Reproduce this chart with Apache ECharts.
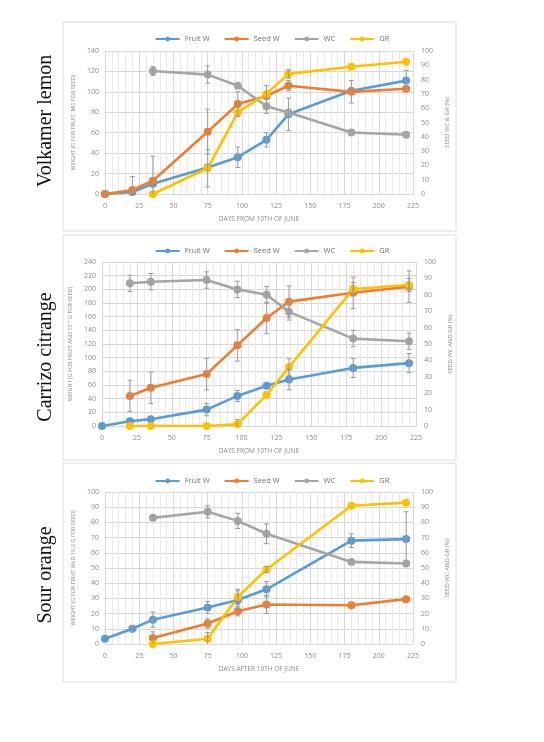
<!DOCTYPE html>
<html><head><meta charset="utf-8">
<script src="https://cdn.jsdelivr.net/npm/echarts@6/dist/echarts.min.js"></script>
<style>html,body{margin:0;padding:0;background:#fff}#c{width:544px;height:742px}</style>
</head><body><div id="c"></div>
<script>
// ---- Data ----
var seriesNames = ['Fruit W', 'Seed W', 'WC', 'GR'];
var panelTitles = ['Volkamer lemon', 'Carrizo citrange', 'Sour orange'];

// Panel 1: Volkamer lemon
var days1 = [0, 20, 35, 75, 97, 118, 134, 180, 220];
var fruitW1 = [0, 2, 10, 26, 36, 53, 78, 101, 111];
var fruitE1 = [0, 0, 0, 0, 10, 7, 16, 0, 10];
var seedW1 = [0, 4, 13, 61, 88, 96, 106, 100, 103];
var seedE1 = [2, 13, 24, 22, 12, 10, 5, 11, 0];
var wc1 = [null, null, 86, 83.5, 75.7, 61.4, 57, 43, 41.4];
var wcE1 = [0, 0, 3, 6, 0, 5, 0, 0, 0];
var gr1 = [null, null, 0, 18, 57, 70, 84, 89, 92.5];
var grE1 = [0, 0, 0, 13, 0, 0, 3, 0, 0];

// Panel 2: Carrizo citrange
var days2 = [0, 20, 35, 75, 97, 118, 134, 180, 220];
var fruitW2 = [0, 7, 10, 24, 44, 59, 68, 85, 92];
var fruitE2 = [0, 0, 0, 9, 8, 0, 15, 14, 14];
var seedW2 = [null, 44, 56, 76, 118, 158, 182, 195, 204];
var seedE2 = [0, 23, 23, 23, 23, 23, 23, 23, 23];
var wc2 = [null, 87, 88, 89, 83.3, 80, 69.6, 53.3, 51.7];
var wcE2 = [0, 5, 5, 5, 5, 5, 5, 5, 5];
var gr2 = [null, 0, 0, 0, 1, 19, 36, 83.5, 86];
var grE2 = [0, 0, 0, 0, 3, 0, 5, 4, 4];

// Panel 3: Sour orange
var days3 = [0, 20, 35, 75, 97, 118, 180, 220];
var fruitW3 = [3.5, 10, 16, 24, 29, 36, 68, 69];
var fruitE3 = [0, 2, 5, 4, 6, 5, 4.5, 18];
var seedW3 = [null, null, 4, 13.5, 21.5, 26, 25.5, 29.5];
var seedE3 = [0, 0, 4, 3, 3, 6, 0, 0];
var wc3 = [null, null, 83, 87, 81, 72.5, 54, 53];
var wcE3 = [0, 0, 1.5, 4, 5, 6.5, 0, 0];
var gr3 = [null, null, 0, 3.5, 31, 49, 91, 93];
var grE3 = [0, 0, 0, 4, 5, 2, 0, 0];

var leftMax = [140, 240, 100];
var leftInterval = [20, 20, 10];
var leftNames = ['WEIGHT (G FOR FRUIT, MG FOR SEED)', 'WEIGHT (G FOR FRUIT AND 10\u207B\u00B9 G FOR SEED)', 'WEIGHT (G FOR FRUIT AND 10-2 G FOR SEED)'];
var rightNames = ['SEED WC & GR (%)', 'SEED WC AND GR (%)', 'SEED WC AND GR (%)'];
var xNames = ['DAYS FROM 10TH OF JUNE', 'DAYS FROM 10TH OF JUNE', 'DAYS AFTER 10TH OF JUNE'];

// ---- Layout / style ----
var colors = ['#5B9BD5', '#ED7D31', '#A5A5A5', '#FFC000'];
var grids = [
  {left: 105, right: 131, top: 51, height: 143},
  {left: 102, right: 128, top: 262, height: 164},
  {left: 105, right: 131, top: 492, height: 152}
];
var legendTops = [30, 242, 472];
var boxes = [[63, 22, 393, 209], [63, 235, 393, 225], [63, 463, 393, 219]];
var titleY = [121, 357, 575];

var panels = [
  {days: days1, vals: [fruitW1, seedW1, wc1, gr1], errs: [fruitE1, seedE1, wcE1, grE1]},
  {days: days2, vals: [fruitW2, seedW2, wc2, gr2], errs: [fruitE2, seedE2, wcE2, grE2]},
  {days: days3, vals: [fruitW3, seedW3, wc3, gr3], errs: [fruitE3, seedE3, wcE3, grE3]}
];
var yAxisIdx = [0, 0, 1, 1]; // Fruit, Seed on left; WC, GR on right

var labelStyle = {fontSize: 7, color: '#8a8a8a', fontFamily: 'Open Sans'};
var option = {
  animation: false,
  grid: grids,
  legend: [], xAxis: [], yAxis: [], series: [],
  graphic: []
};

function errorRender(params, api) {
  var x = api.value(0), y = api.value(1), e = api.value(2);
  var lo = Math.max(0, y - e), hi = y + e;
  var pHi = api.coord([x, hi]), pLo = api.coord([x, lo]);
  var children = [
    {type: 'line', shape: {x1: pHi[0], y1: pHi[1], x2: pLo[0], y2: pLo[1]}, style: {stroke: '#9a9a9a', lineWidth: 1}},
    {type: 'line', shape: {x1: pHi[0] - 2.5, y1: pHi[1], x2: pHi[0] + 2.5, y2: pHi[1]}, style: {stroke: '#9a9a9a', lineWidth: 1}}
  ];
  if (y - e > 0) children.push({type: 'line', shape: {x1: pLo[0] - 2.5, y1: pLo[1], x2: pLo[0] + 2.5, y2: pLo[1]}, style: {stroke: '#9a9a9a', lineWidth: 1}});
  return {type: 'group', children: children};
}

panels.forEach(function (p, g) {
  option.legend.push({
    top: legendTops[g], left: 'center', data: seriesNames,
    itemWidth: 24, itemHeight: 6, itemGap: 14,
    textStyle: {fontSize: 7.5, color: '#6f6f6f', fontFamily: 'Open Sans'}
  });
  option.xAxis.push({
    type: 'value', gridIndex: g, min: 0, max: 225, interval: 25,
    name: xNames[g], nameLocation: 'middle', nameGap: 22,
    nameTextStyle: {fontSize: 6.5, color: '#8a8a8a', fontFamily: 'Open Sans'},
    axisLine: {show: true, lineStyle: {color: '#d9d9d9'}}, axisTick: {show: false},
    axisLabel: labelStyle,
    splitLine: {show: true, lineStyle: {color: '#d6d6d6', width: 1}},
    minorTick: {show: false, splitNumber: 5},
    minorSplitLine: {show: true, lineStyle: {color: '#e8e8e8', width: 1}}
  });
  option.yAxis.push({
    type: 'value', gridIndex: g, min: 0, max: leftMax[g], interval: leftInterval[g],
    name: leftNames[g], nameLocation: 'middle', nameGap: 21, nameRotate: 90,
    nameTextStyle: {fontSize: 5.5, color: '#8a8a8a', fontFamily: 'Open Sans'},
    axisLine: {show: false}, axisTick: {show: false},
    axisLabel: Object.assign({margin: 6}, labelStyle),
    splitLine: {show: true, lineStyle: {color: '#d6d6d6'}}
  });
  option.yAxis.push({
    type: 'value', gridIndex: g, position: 'right', min: 0, max: 100, interval: 10,
    name: rightNames[g], nameLocation: 'middle', nameGap: 25, nameRotate: 90,
    nameTextStyle: {fontSize: 6, color: '#8a8a8a', fontFamily: 'Open Sans'},
    axisLine: {show: false}, axisTick: {show: false},
    axisLabel: Object.assign({margin: 8}, labelStyle),
    splitLine: {show: false}
  });
  p.vals.forEach(function (vals, s) {
    var data = [], edata = [];
    vals.forEach(function (v, i) {
      if (v === null) return;
      data.push([p.days[i], v]);
      if (p.errs[s][i] > 0) edata.push([p.days[i], v, p.errs[s][i]]);
    });
    var yi = g * 2 + yAxisIdx[s];
    option.series.push({
      name: seriesNames[s], type: 'line', xAxisIndex: g, yAxisIndex: yi,
      data: data, color: colors[s], symbol: 'circle', symbolSize: 8,
      lineStyle: {width: 2.6, color: colors[s]}, itemStyle: {color: colors[s]}, z: 3
    });
    if (edata.length) option.series.push({
      type: 'custom', xAxisIndex: g, yAxisIndex: yi, data: edata,
      renderItem: errorRender, z: 4, silent: true, clip: false
    });
  });
  option.graphic.push({
    type: 'rect', shape: {x: boxes[g][0], y: boxes[g][1], width: boxes[g][2], height: boxes[g][3]},
    style: {fill: 'none', stroke: '#dcdcdc', lineWidth: 1}, z: -1
  });
  option.graphic.push({
    type: 'text', x: 46, y: titleY[g], rotation: Math.PI / 2,
    style: {text: panelTitles[g], font: '20px "Liberation Serif", serif', fill: '#111', align: 'center', verticalAlign: 'middle'}
  });
});

var chart = echarts.init(document.getElementById('c'));
chart.setOption(option);
</script></body></html>
